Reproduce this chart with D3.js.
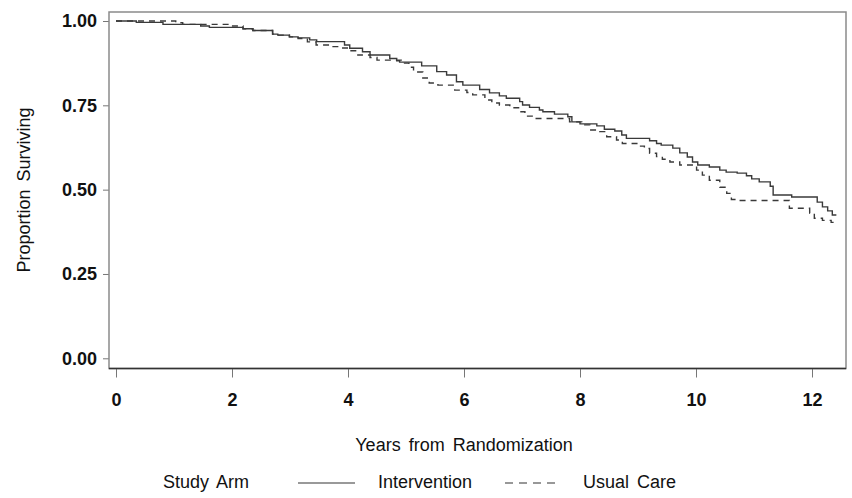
<!DOCTYPE html>
<html lang="en">
<head>
  <meta charset="UTF-8">
  <title>Proportion Surviving by Study Arm</title>
  <script src="https://d3js.org/d3.v7.min.js"></script>
  <style>
    body { margin: 0; background: #fff; }
    text { font-family: "Liberation Sans", Arial, sans-serif; fill: #111; }
    .tick text { font-size: 18px; font-weight: bold; }
    .title { font-size: 18px; word-spacing: 3px; }
    .km { fill: none; stroke: #3a3a3a; stroke-width: 1.4; }
  </style>
</head>
<body>
  <svg width="852" height="498"></svg>
  <script>
    // Kaplan-Meier steps: [years, proportion surviving]
    const intervention = [
      [0, 1.000], [0.35, 0.996], [0.81, 0.990], [1.46, 0.985], [1.61, 0.981], [2.19, 0.977],
      [2.36, 0.972], [2.70, 0.961], [2.79, 0.958], [2.99, 0.953], [3.14, 0.950], [3.34, 0.944],
      [3.46, 0.939], [3.94, 0.929], [4.03, 0.919], [4.25, 0.909], [4.38, 0.899], [4.72, 0.889],
      [4.84, 0.882], [4.89, 0.878], [5.27, 0.867], [5.53, 0.850], [5.70, 0.840], [5.87, 0.820],
      [5.98, 0.810], [6.27, 0.797], [6.44, 0.787], [6.61, 0.778], [6.73, 0.771], [6.96, 0.761],
      [7.01, 0.751], [7.13, 0.744], [7.30, 0.736], [7.36, 0.731], [7.56, 0.724], [7.79, 0.716],
      [7.86, 0.701], [8.00, 0.695], [8.29, 0.689], [8.42, 0.679], [8.60, 0.674], [8.72, 0.662],
      [8.80, 0.652], [9.20, 0.645], [9.32, 0.637], [9.40, 0.632], [9.60, 0.623], [9.72, 0.609],
      [9.85, 0.597], [9.94, 0.582], [10.03, 0.573], [10.23, 0.567], [10.41, 0.558], [10.52, 0.552],
      [10.71, 0.549], [10.87, 0.541], [10.96, 0.532], [11.09, 0.523], [11.28, 0.510], [11.33, 0.484],
      [11.65, 0.478], [12.09, 0.463], [12.18, 0.449], [12.27, 0.437], [12.35, 0.425], [12.42, 0.425]
    ];
    const usualCare = [
      [0, 1.000], [1.03, 0.995], [1.15, 0.990], [1.93, 0.985], [2.19, 0.977], [2.36, 0.972],
      [2.70, 0.961], [2.79, 0.958], [2.99, 0.953], [3.14, 0.948], [3.30, 0.938], [3.45, 0.929],
      [3.70, 0.924], [3.88, 0.920], [4.03, 0.912], [4.17, 0.899], [4.38, 0.892], [4.50, 0.884],
      [4.95, 0.875], [5.05, 0.863], [5.13, 0.849], [5.29, 0.831], [5.40, 0.816], [5.55, 0.810],
      [5.84, 0.795], [6.05, 0.788], [6.15, 0.781], [6.36, 0.766], [6.48, 0.757], [6.61, 0.751],
      [6.79, 0.743], [6.96, 0.731], [7.05, 0.718], [7.22, 0.711], [7.82, 0.701], [8.03, 0.692],
      [8.17, 0.677], [8.34, 0.672], [8.46, 0.657], [8.63, 0.647], [8.73, 0.637], [8.98, 0.629],
      [9.11, 0.622], [9.20, 0.608], [9.32, 0.598], [9.42, 0.590], [9.55, 0.582], [9.72, 0.573],
      [10.01, 0.558], [10.11, 0.543], [10.23, 0.528], [10.41, 0.507], [10.53, 0.489], [10.61, 0.471],
      [10.70, 0.468], [11.61, 0.445], [11.96, 0.430], [12.04, 0.415], [12.18, 0.409], [12.33, 0.403],
      [12.42, 0.403]
    ];
    const xTicks = [0, 2, 4, 6, 8, 10, 12];
    const yTicks = [0, 0.25, 0.5, 0.75, 1];
    const arms = ["Intervention", "Usual Care"];

    const svg = d3.select('svg');
    const frame = { left: 109, top: 12, right: 846, bottom: 368.5 };

    const x = d3.scaleLinear().domain([0, 12]).range([116, 812]);
    const y = d3.scaleLinear().domain([0, 1]).range([358.3, 21]);

    // y axis
    const yAxis = svg.append('g')
      .attr('transform', `translate(${frame.left},0)`)
      .call(d3.axisLeft(y).tickValues(yTicks).tickFormat(d3.format('.2f')).tickSize(6).tickPadding(6));
    yAxis.select('.domain').remove();
    yAxis.selectAll('line').attr('stroke', '#777');

    // x axis
    const xAxis = svg.append('g')
      .attr('transform', `translate(0,${frame.bottom})`)
      .call(d3.axisBottom(x).tickValues(xTicks).tickSize(9).tickPadding(16));
    xAxis.select('.domain').remove();
    xAxis.selectAll('line').attr('stroke', '#777');
    xAxis.selectAll('text').attr('dy', '0.71em');

    // frame
    svg.append('rect')
      .attr('x', frame.left).attr('y', frame.top)
      .attr('width', frame.right - frame.left).attr('height', frame.bottom - frame.top)
      .attr('fill', 'none').attr('stroke', '#8a8a8a').attr('stroke-width', 1.5);
    svg.append('line')
      .attr('x1', frame.left).attr('x2', frame.right)
      .attr('y1', frame.bottom).attr('y2', frame.bottom)
      .attr('stroke', '#333').attr('stroke-width', 1.5);

    const line = d3.line()
      .x(d => x(d[0]))
      .y(d => y(d[1]))
      .curve(d3.curveStepAfter);

    svg.append('path').datum(intervention).attr('class', 'km').attr('d', line);
    svg.append('path').datum(usualCare).attr('class', 'km')
      .attr('stroke-dasharray', '6,5').attr('d', line);

    // axis titles
    svg.append('text').attr('class', 'title')
      .attr('x', x(6)).attr('y', 451)
      .attr('text-anchor', 'middle')
      .text('Years from Randomization');
    svg.append('text').attr('class', 'title')
      .attr('transform', 'translate(30,190) rotate(-90)')
      .attr('text-anchor', 'middle')
      .text('Proportion Surviving');

    // legend
    const lg = svg.append('g');
    lg.append('text').attr('class', 'title').attr('x', 163).attr('y', 488).text('Study Arm');
    lg.append('line').attr('x1', 298).attr('x2', 355).attr('y1', 483).attr('y2', 483)
      .attr('stroke', '#777').attr('stroke-width', 1.4);
    lg.append('text').attr('class', 'title').attr('x', 378).attr('y', 488).text(arms[0]);
    lg.append('line').attr('x1', 505).attr('x2', 555).attr('y1', 483).attr('y2', 483)
      .attr('stroke', '#777').attr('stroke-width', 1.4).attr('stroke-dasharray', '8,6');
    lg.append('text').attr('class', 'title').attr('x', 583).attr('y', 488).text(arms[1]);
  </script>
</body>
</html>
